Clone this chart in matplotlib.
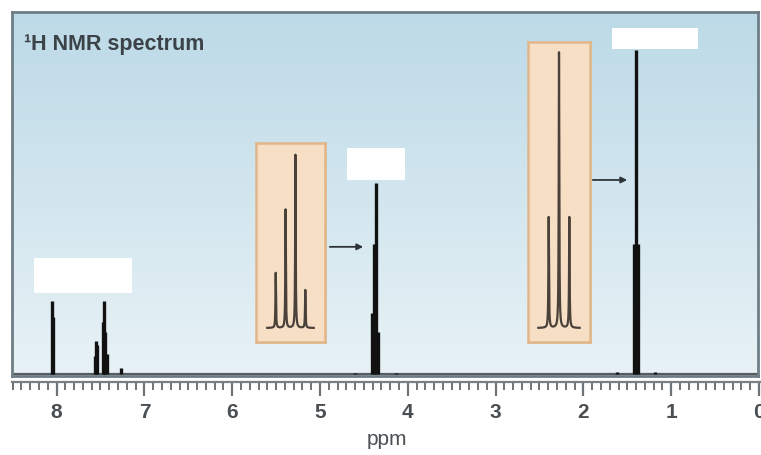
import numpy as np
import matplotlib
matplotlib.use('Agg')
import matplotlib.pyplot as plt
from matplotlib.colors import LinearSegmentedColormap
from matplotlib.patches import Rectangle

# peak table: chemical shift (ppm) and relative height of each line
aromatic_ppm = [8.058, 8.040, 7.568, 7.552, 7.537, 7.476, 7.460, 7.445, 7.430, 7.262]
aromatic_h = [0.225, 0.175, 0.055, 0.100, 0.090, 0.160, 0.225, 0.130, 0.060, 0.020]
quartet_ppm = [4.410, 4.387, 4.363, 4.340]
quartet_h = [0.186, 0.400, 0.585, 0.128]
triplet_ppm = [1.423, 1.400, 1.377]
triplet_h = [0.400, 0.995, 0.400]
satellite_ppm = [1.62, 1.18, 4.60, 4.14]
satellite_h = [0.006, 0.006, 0.004, 0.004]

# expanded multiplets, line offsets in Hz
quartet_hz = [-10.5, -3.5, 3.5, 10.5]
triplet_hz = [-7.0, 0.0, 7.0]

tick_labels = ['8', '7', '6', '5', '4', '3', '2', '1', '0']

W, H = 761, 455
fig = plt.figure(figsize=(W / 100, H / 100), dpi=100)
plt.rcParams['font.family'] = ['Liberation Sans', 'DejaVu Sans']


def px_box(x0, y0, x1, y1):
    return [x0 / W, 1 - y1 / H, (x1 - x0) / W, (y1 - y0) / H]


xl = ((759 - 12) / 87.8, (759 - 758) / 87.8)
ax = fig.add_axes(px_box(12, 12, 758, 376))
ax.set_xlim(*xl)
ax.set_ylim(-0.006, 1.11)

# soft blue gradient behind the spectrum
cmap = LinearSegmentedColormap.from_list('bg', ['#e8f2f6', '#bcdae7'])
grad = np.linspace(0, 1, 256).reshape(-1, 1)
ax.imshow(grad, cmap=cmap, aspect='auto', extent=[0, 1, 0, 1],
          transform=ax.transAxes, origin='lower', zorder=0)

for s in ax.spines.values():
    s.set_color('#6e7d86')
    s.set_linewidth(2)
ax.set_xticks([])
ax.set_yticks([])

# baseline and peaks
ax.axhline(0, color='#555b5f', lw=1.6, zorder=2)
all_ppm = aromatic_ppm + quartet_ppm + triplet_ppm + satellite_ppm
all_h = aromatic_h + quartet_h + triplet_h + satellite_h
ax.vlines(all_ppm, 0, all_h, color='#111111', lw=2.4, zorder=3)

# blank label boxes
for (x0, y0, x1, y1) in [(34, 258, 132, 293), (347, 148, 405, 180), (612, 28, 698, 49)]:
    fig.patches.append(Rectangle((x0 / W, 1 - y1 / H), (x1 - x0) / W, (y1 - y0) / H,
                                 transform=fig.transFigure, facecolor='white',
                                 edgecolor='none', zorder=10))

fig.text(24 / W, 1 - 50 / H, '¹H NMR spectrum', fontsize=15.5, color='#3b4348',
         fontweight='bold', va='baseline', ha='left')

# arrows from expansions to peaks
ax.annotate('', xy=((759 - 366) / 87.8, 0.39), xytext=((759 - 327) / 87.8, 0.39),
            arrowprops=dict(arrowstyle='-|>', color='#2f3438', lw=1.3, mutation_scale=9))
ax.annotate('', xy=((759 - 630) / 87.8, 0.595), xytext=((759 - 590) / 87.8, 0.595),
            arrowprops=dict(arrowstyle='-|>', color='#2f3438', lw=1.3, mutation_scale=9))


def expansion(box, offsets, heights, half_w, y_lo, y_hi, span):
    x0, y0, x1, y1 = box
    # drop shadow
    fig.patches.append(Rectangle(((x0 + 2) / W, 1 - (y1 + 2) / H), (x1 - x0) / W,
                                 (y1 - y0) / H, transform=fig.transFigure,
                                 facecolor='#c9b9a6', edgecolor='none', alpha=0.5, zorder=4))
    iax = fig.add_axes(px_box(x0, y0, x1, y1))
    iax.set_zorder(5)
    iax.set_facecolor('#f6dfc5')
    for s in iax.spines.values():
        s.set_color('#e2b688')
        s.set_linewidth(1.8)
    iax.set_xticks([])
    iax.set_yticks([])
    iax.set_xlim(-half_w, half_w)
    iax.set_ylim(y_lo, y_hi)
    x = np.linspace(-span, span, 6000)
    g = 0.22
    y = np.zeros_like(x)
    for c, h in zip(offsets, heights):
        y += h * g ** 2 / ((x - c) ** 2 + g ** 2)
    iax.plot(x, y, color='#4b413b', lw=1.6)


expansion((256, 143, 325, 342), quartet_hz, quartet_h, 24.5, -14 / 296, 185 / 296, 16.5)
expansion((528, 42, 590, 342), triplet_hz, triplet_h, 21.0, -14 / 277, 286 / 277, 14.0)

# ppm ruler beneath the frame
rax = fig.add_axes(px_box(12, 370, 761, 382))
rax.set_xlim(xl[0], (759 - 761) / 87.8)
rax.patch.set_alpha(0)
for k in ['top', 'left', 'right']:
    rax.spines[k].set_visible(False)
rax.spines['bottom'].set_color('#7a7f83')
rax.spines['bottom'].set_linewidth(1.6)
rax.set_yticks([])
rax.set_xticks(np.arange(8, -0.5, -1))
rax.set_xticklabels(tick_labels)
rax.set_xticks(np.arange(8.5, -0.05, -0.1), minor=True)
rax.tick_params(axis='x', which='major', length=10, width=1.6, color='#6f7478',
                labelsize=15, labelcolor='#4a4f53', pad=5)
rax.tick_params(axis='x', which='minor', length=6, width=1.4, color='#6f7478')
for t in rax.get_xticklabels():
    t.set_fontweight('bold')
rax.set_xlabel('ppm', fontsize=15, color='#4a4f53', labelpad=6)

# longer marks at the half-ppm positions
half_marks = np.arange(8.5, 0, -1.0)
rax.vlines(half_marks, -0.7, 0, transform=rax.get_xaxis_transform(), color='#6f7478',
           lw=1.4, clip_on=False)

fig.savefig('out.png', dpi=100)
